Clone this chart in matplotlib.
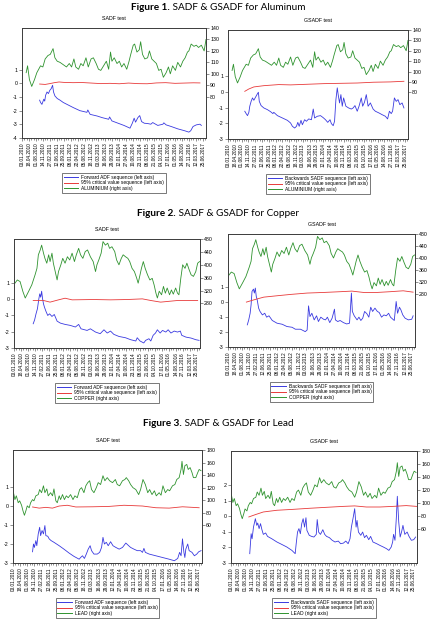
import matplotlib
matplotlib.use("Agg")
import matplotlib.pyplot as plt
from matplotlib.lines import Line2D

plt.rcParams['font.family'] = ['Liberation Sans', 'DejaVu Sans']

# x axis: weeks counted from 03.01.2010, one label every 15 weeks
date_labels = ["03.01.2010", "18.04.2010", "01.08.2010", "14.11.2010", "27.02.2011",
               "12.06.2011", "25.09.2011", "08.01.2012", "22.04.2012", "05.08.2012",
               "18.11.2012", "03.03.2013", "16.06.2013", "29.09.2013", "12.01.2014",
               "27.04.2014", "10.08.2014", "23.11.2014", "08.03.2015", "21.06.2015",
               "04.10.2015", "17.01.2016", "01.05.2016", "14.08.2016", "27.11.2016",
               "12.03.2017", "25.06.2017"]

######## Aluminium
al_price_wk = [9,12,16,21,27,32,36,40,45,50,56,61,67,71,76,82,89,96,102,107,112,116,122,127,132,138,143,149,154,160,165,170,176,182,187,191,194,199,205,210,215,220,226,231,234,240,243,248,253,256,260,265,271,275,280,285,290,295,300,305,311,316,320,325,331,336,342,347,352,357,360,365,371,376,381,387,393,397]
al_price = [101,107,95,89,95,101,104,107,106,113,116,117,122,114,111,110,108,106,109,106,113,106,104,109,107,114,106,113,114,109,104,103,107,111,104,119,111,114,109,111,106,109,104,111,116,125,126,119,121,128,117,113,114,120,113,111,109,103,104,97,101,106,100,107,103,110,106,111,114,119,120,126,124,125,123,125,120,130]

al_sadf_wk = [38,40,43,47,49,51,54,57,60,63,66,68,71,76,82,89,100,111,125,140,142,147,162,173,187,189,194,205,220,233,238,242,245,250,254,258,264,271,278,282,293,304,306,311,322,336,351,360,364,369,376,384,387]
al_sadf = [-1.23,-1.40,-1.54,-1.16,-1.30,-0.87,-0.63,-0.75,-0.51,-0.39,-0.14,-0.63,-0.92,-1.11,-1.23,-1.40,-1.59,-1.78,-2.00,-2.12,-1.95,-2.27,-2.39,-2.51,-2.63,-2.46,-2.75,-2.89,-3.08,-3.28,-2.92,-2.55,-2.84,-2.51,-2.36,-2.80,-2.92,-2.94,-2.99,-2.87,-3.08,-2.99,-2.89,-3.04,-3.16,-3.33,-3.47,-3.57,-3.47,-3.16,-3.04,-2.99,-3.08]
al_sadf_cv_wk = [38,50,60,70,80,90,110,130,150,170,190,210,230,250,270,290,310,330,350,370,384]
al_sadf_cv = [-0.05,-0.08,-0.02,0.05,0.10,0.07,0.05,0.06,0.02,-0.02,0.00,-0.03,0.02,-0.02,-0.03,0.03,0.05,0.00,0.02,0.04,0.03]

al_gsadf_wk = [37,40,43,46,48,51,54,57,61,65,67,69,73,79,87,94,99,101,109,120,131,138,142,147,151,154,157,161,164,169,173,178,184,188,191,197,204,210,215,220,225,228,232,235,238,241,243,246,249,252,255,260,266,272,276,280,285,289,294,297,301,305,309,314,320,325,333,340,347,352,356,360,363,367,371,375,379,384,388]
al_gsadf = [-1.23,-1.38,-1.51,-1.30,-0.91,-0.60,-0.38,-0.53,-0.32,-0.11,-0.02,-0.60,-0.87,-1.02,-1.13,-1.26,-1.38,-1.30,-1.51,-1.66,-1.81,-1.98,-2.19,-2.30,-2.19,-1.94,-2.19,-1.81,-2.09,-1.77,-1.87,-1.72,-1.77,-1.09,-1.66,-1.55,-1.51,-1.64,-1.77,-1.94,-1.77,-2.02,-2.15,-1.87,-0.49,0.26,-0.17,-0.70,-0.17,-0.91,-0.38,-0.91,-1.02,-1.09,-1.02,-0.87,-1.23,-0.91,-0.38,-0.91,-0.66,-0.17,-0.91,-0.70,-1.09,-1.23,-1.34,-1.45,-1.55,-1.72,-1.23,-1.38,-1.23,-0.38,-0.60,-0.49,-0.81,-0.70,-1.02]
al_gsadf_cv_wk = [37,46,57,79,112,138,175,211,248,285,321,358,388]
al_gsadf_cv = [0.04,0.19,0.32,0.40,0.47,0.45,0.49,0.53,0.55,0.57,0.62,0.64,0.68]

######## Copper
cu_price_wk = [2,7,13,19,24,31,38,45,49,52,56,59,63,66,70,74,77,81,84,88,92,95,100,104,109,114,119,124,129,133,138,142,147,152,157,163,169,174,177,181,186,190,195,200,204,209,215,219,224,229,233,238,243,247,252,257,262,265,269,272,276,280,285,290,295,299,303,306,310,315,319,323,327,332,336,340,345,349,352,356,360,365,369,374,378,383,388,392,396]
cu_price = [343,353,348,317,297,317,338,369,389,431,446,461,436,420,405,431,410,436,405,379,353,379,400,420,405,425,415,436,410,431,451,431,420,441,446,425,410,379,400,415,436,472,461,467,451,456,441,415,400,420,431,425,420,410,389,379,358,343,369,389,410,389,369,353,358,338,312,297,318,307,333,312,328,307,322,309,328,312,307,358,400,389,405,384,369,364,379,405,410]

cu_sadf_wk = [41,44,47,50,53,55,57,59,61,63,65,68,72,76,81,86,92,99,109,120,131,138,143,156,163,174,184,192,199,206,213,224,238,249,260,263,269,277,281,288,292,297,302,306,312,317,324,329,335,342,349,355,358,367,378,388,395]
cu_sadf = [-1.51,-1.27,-0.90,-0.59,0.02,0.33,0.12,0.49,0.02,-0.29,-0.49,-0.73,-1.00,-0.90,-1.06,-0.94,-1.35,-1.47,-1.55,-1.61,-1.71,-1.55,-1.82,-1.92,-1.82,-2.02,-2.12,-1.88,-2.08,-1.96,-2.16,-2.29,-2.37,-2.49,-2.57,-2.37,-2.57,-2.69,-2.53,-2.43,-2.57,-2.22,-2.08,-1.88,-2.08,-1.92,-2.02,-1.88,-2.08,-1.96,-2.02,-1.96,-2.22,-2.33,-2.39,-2.49,-2.53]
cu_sadf_cv_wk = [41,63,77,95,109,124,170,206,242,274,292,313,349,392]
cu_sadf_cv = [-0.08,-0.08,-0.18,-0.04,0.06,-0.04,-0.02,-0.04,-0.02,0.02,-0.08,-0.18,-0.08,-0.08]

cu_gsadf_wk = [41,44,47,49,51,54,56,58,60,62,65,68,73,78,82,87,94,104,115,125,136,143,154,164,168,171,174,178,183,188,192,197,203,207,211,216,221,226,228,233,238,245,252,258,262,264,268,274,278,282,286,290,295,299,303,307,312,317,321,326,331,336,341,345,350,353,357,360,364,367,371,376,383,390,393]
cu_gsadf = [-1.53,-1.20,-0.76,-0.20,0.69,0.84,0.58,0.91,0.36,0.13,-0.42,-0.64,-0.87,-0.76,-1.02,-0.93,-1.24,-1.42,-1.49,-1.64,-1.69,-1.82,-1.82,-1.98,-1.87,-0.27,-0.98,-0.76,-1.20,-0.93,-1.31,-1.02,-1.16,-1.20,-1.02,-1.38,-1.09,-0.49,-1.20,-1.31,-1.24,-1.38,-1.47,-1.42,0.58,-0.64,-0.93,-1.20,-1.02,-1.24,-1.09,-0.64,-0.80,-1.02,-0.36,-0.64,-0.42,-0.64,-0.71,-1.02,-0.87,-0.93,-0.76,-1.02,-1.16,-1.24,0.02,-0.76,-0.36,-0.53,-0.87,-1.09,-1.20,-1.16,-0.93]
cu_gsadf_cv_wk = [39,55,76,104,133,168,203,238,263,288,316,344,372,393]
cu_gsadf_cv = [-0.02,0.13,0.31,0.40,0.49,0.58,0.62,0.67,0.71,0.62,0.62,0.67,0.73,0.64]

######## Lead
pb_price_wk = [1,4,7,11,14,18,21,24,27,30,34,37,41,44,48,53,56,60,64,67,71,74,79,83,86,90,93,97,100,104,108,112,116,121,126,130,135,140,144,149,153,157,161,165,170,175,179,184,189,193,198,203,209,215,219,224,230,235,238,243,247,252,258,264,268,273,278,283,287,292,297,301,307,311,315,320,325,329,335,340,344,349,353,355,358,361,365,368,372,376,379,384,388,391,395]
pb_price = [112,101,107,96,99,92,83,76,83,91,88,96,101,99,107,109,117,112,123,112,118,107,112,107,118,99,96,107,101,109,101,107,104,109,101,107,104,117,120,112,123,128,131,117,112,120,128,125,139,131,136,131,128,133,125,123,131,133,136,131,125,120,117,109,117,133,125,112,117,109,115,107,112,108,123,112,117,115,123,125,133,136,149,162,141,155,157,149,152,144,136,136,144,149,147]

pb_sadf_wk = [41,43,45,48,50,53,56,58,61,64,67,69,73,76,80,86,97,107,118,128,139,142,146,150,154,158,162,165,170,177,182,186,189,192,196,200,205,210,216,223,230,237,243,247,254,261,268,272,275,278,286,300,314,328,339,346,350,353,356,359,361,363,367,370,376,381,386,390,395]
pb_sadf = [-2.41,-2.00,-2.18,-1.82,-2.09,-1.47,-1.12,-1.56,-1.29,-1.47,-1.03,-1.56,-1.59,-1.73,-1.82,-1.91,-2.09,-2.27,-2.48,-2.65,-2.80,-2.71,-2.62,-2.76,-2.53,-2.27,-2.09,-2.35,-2.53,-2.53,-2.44,-2.18,-1.65,-2.00,-1.91,-2.09,-1.88,-2.09,-2.18,-2.27,-2.18,-1.95,-2.09,-2.18,-2.27,-2.35,-2.35,-2.44,-2.23,-2.44,-2.53,-2.62,-2.71,-2.80,-2.88,-2.76,-2.44,-2.62,-1.73,-2.44,-2.71,-2.27,-2.00,-2.35,-2.44,-2.62,-2.53,-2.41,-2.35]
pb_sadf_cv_wk = [41,55,69,83,97,114,132,167,202,233,272,300,328,356,391]
pb_sadf_cv = [-0.05,-0.11,-0.07,-0.11,0.00,0.04,-0.05,-0.04,-0.02,0.04,0.00,-0.09,-0.11,-0.04,-0.09]

pb_gsadf_wk = [40,43,45,48,52,55,57,60,63,66,69,74,78,87,98,108,119,130,137,139,142,145,148,151,154,157,160,162,167,172,177,182,184,187,191,196,200,204,210,216,222,229,234,240,245,250,254,257,261,264,267,269,272,277,281,285,289,294,298,303,311,318,325,332,337,342,345,347,350,353,355,358,361,364,367,371,376,380,385,390,394]
pb_gsadf = [-2.40,-1.12,-1.44,-0.69,-0.15,-0.58,-0.43,-0.79,-0.47,-0.86,-1.16,-1.07,-1.29,-1.44,-1.65,-1.80,-1.97,-2.19,-2.40,-1.80,-1.01,-0.79,-1.12,-0.47,-0.15,-0.69,-0.09,-0.90,-1.22,-1.29,-1.33,-1.16,-0.21,-1.01,-1.16,-0.86,-1.16,-1.29,-1.37,-1.54,-1.65,-1.59,-1.76,-1.72,-1.59,-1.76,-1.44,-0.69,-0.04,0.49,-0.69,-0.26,-1.01,-1.22,-1.01,-1.37,-1.22,-1.50,-1.29,-1.65,-1.76,-1.87,-1.97,-2.08,-2.19,-1.97,-1.65,-1.16,-1.54,-0.04,1.29,-0.36,-1.33,-1.01,-0.58,-1.16,-1.01,-1.29,-1.54,-1.50,-1.33]
pb_gsadf_cv_wk = [38,52,69,98,133,169,204,240,264,289,318,346,374,396]
pb_gsadf_cv = [-0.04,0.11,0.28,0.39,0.45,0.52,0.58,0.64,0.67,0.60,0.60,0.64,0.69,0.64]


BLUE = '#3a3ae0'
RED = '#e83a3a'
GREEN = '#2f932f'
EDGE = '#3c3c3c'
W, H = 430.0, 637.0

fig = plt.figure(figsize=(4.3, 6.37), dpi=100)


def panel(box, title, seq_wk, seq, cv_wk, cv, pr_wk, pr, seq_name, metal,
          ylim, yticks, ylim2, yticks2):
    x0, y0, x1, y1 = box
    ax = fig.add_axes([x0 / W, 1 - y1 / H, (x1 - x0) / W, (y1 - y0) / H])
    ax.plot(seq_wk, seq, color=BLUE, lw=0.6)
    ax.plot(cv_wk, cv, color=RED, lw=0.6)
    ax.set_xlim(0, 397)
    ax.set_ylim(*ylim)
    ax.set_yticks(yticks)
    ax.set_yticklabels([str(t) for t in yticks])
    ax.set_xticks(range(0, 391, 15))
    ax.set_xticks(range(0, 397, 5), minor=True)
    ax.set_xticklabels(date_labels, rotation=90)
    ax.tick_params(axis='x', which='major', labelsize=3.4, length=2.2, width=0.4, pad=1, color=EDGE)
    ax.tick_params(axis='x', which='minor', length=1.4, width=0.4, color=EDGE)
    ax.tick_params(axis='y', labelsize=3.8, length=2, width=0.4, pad=1, color=EDGE)
    ax.set_title(title, fontsize=3.8, pad=6)

    ax2 = ax.twinx()
    ax2.plot(pr_wk, pr, color=GREEN, lw=0.6)
    ax2.set_ylim(*ylim2)
    ax2.set_yticks(yticks2)
    ax2.set_yticklabels([str(t) for t in yticks2])
    ax2.tick_params(axis='y', labelsize=3.8, length=2, width=0.4, pad=1, color=EDGE)
    for a in (ax, ax2):
        for s in a.spines.values():
            s.set_color(EDGE)
            s.set_linewidth(0.6)

    handles = [Line2D([], [], color=BLUE, lw=0.7),
               Line2D([], [], color=RED, lw=0.7),
               Line2D([], [], color=GREEN, lw=0.7)]
    labels = [seq_name + ' sequence (left axis)',
              '95% critical value sequence (left axis)',
              metal + ' (right axis)']
    leg = fig.legend(handles, labels, loc='upper center',
                     bbox_to_anchor=((x0 + x1) / 2 / W, 1 - (y1 + 35) / H),
                     fontsize=3.5, fancybox=False, edgecolor=EDGE,
                     handlelength=3.0, borderpad=0.35, labelspacing=0.12,
                     handletextpad=0.6, borderaxespad=0)
    leg.get_frame().set_linewidth(0.6)


panel((22, 28, 206, 138), 'SADF test', al_sadf_wk, al_sadf, al_sadf_cv_wk, al_sadf_cv,
      al_price_wk, al_price, 'Forward ADF', 'ALUMINIUM',
      (-4, 4.05), [-4, -3, -2, -1, 0, 1], (44, 140), list(range(80, 141, 10)))
panel((228, 30, 408, 139), 'GSADF test', al_gsadf_wk, al_gsadf, al_gsadf_cv_wk, al_gsadf_cv,
      al_price_wk, al_price, 'Backwards SADF', 'ALUMINIUM',
      (-3, 3.95), [-3, -2, -1, 0, 1], (35, 140), list(range(80, 141, 10)))
panel((14, 239, 200, 348), 'SADF test', cu_sadf_wk, cu_sadf, cu_sadf_cv_wk, cu_sadf_cv,
      cu_price_wk, cu_price, 'Forward ADF', 'COPPER',
      (-3, 3.7), [-3, -2, -1, 0, 1], (142, 480), list(range(280, 481, 40)))
panel((228, 234, 415, 347), 'GSADF test', cu_gsadf_wk, cu_gsadf, cu_gsadf_cv_wk, cu_gsadf_cv,
      cu_price_wk, cu_price, 'Backwards SADF', 'COPPER',
      (-3, 4.5), [-3, -2, -1, 0, 1], (103, 480), list(range(280, 481, 40)))
panel((13, 450, 202, 563), 'SADF test', pb_sadf_wk, pb_sadf, pb_sadf_cv_wk, pb_sadf_cv,
      pb_price_wk, pb_price, 'Forward ADF', 'LEAD',
      (-3, 2.95), [-3, -2, -1, 0, 1], (0, 180), list(range(60, 181, 20)))
panel((231, 451, 417, 563), 'GSADF test', pb_gsadf_wk, pb_gsadf, pb_gsadf_cv_wk, pb_gsadf_cv,
      pb_price_wk, pb_price, 'Backwards SADF', 'LEAD',
      (-3, 4.2), [-3, -2, -1, 0, 1, 2], (8, 180), list(range(60, 181, 20)))

# figure headings: bold "Figure n." followed by regular text, centred as one line
headings = [(7, 'Figure 1.', ' SADF & GSADF for Aluminum'),
            (214, 'Figure 2.', ' SADF & GSADF for Copper'),
            (423, 'Figure 3.', ' SADF & GSADF for Lead')]
fig.canvas.draw()
renderer = fig.canvas.get_renderer()
for ypix, num, rest in headings:
    t1 = fig.text(0, 1 - ypix / H, num, fontsize=7.2, fontweight='bold',
                  family=['Lato', 'DejaVu Sans'], va='center', ha='left')
    t2 = fig.text(0, 1 - ypix / H, rest, fontsize=7.2,
                  family=['Lato', 'DejaVu Sans'], va='center', ha='left')
    w1 = t1.get_window_extent(renderer).width
    w2 = t2.get_window_extent(renderer).width
    start = 218 - (w1 + w2) / 2
    t1.set_x(start / W)
    t2.set_x((start + w1) / W)

fig.savefig('out.png', dpi=100)
